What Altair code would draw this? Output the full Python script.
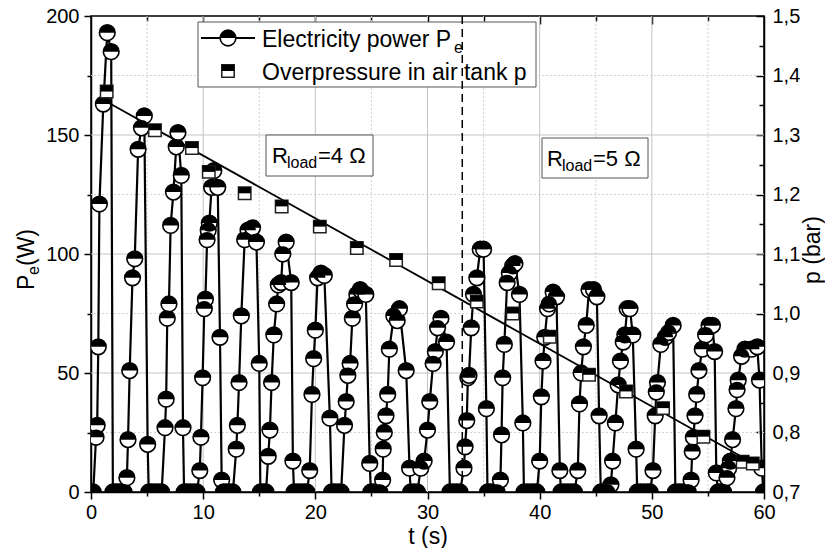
import altair as alt
import pandas as pd

FONT = "Liberation Sans"

# ---------------- data ----------------
# Electricity power P_e (W): one block per pulse (rise, peak, drop, zeros)
s00_t = [0.0, 0.2]
s00_w = [0, 0]
s01_t = [0.45, 0.55, 0.65, 0.75, 1.1, 1.45, 1.8, 1.95, 2.2, 2.45, 2.7, 2.95]
s01_w = [23, 28, 61, 121, 163, 193, 185, 0, 0, 0, 0, 0]
s02_t = [3.2, 3.3, 3.45, 3.7, 3.9, 4.2, 4.5, 4.75, 5.05, 5.15, 5.4, 5.7, 6.0, 6.3]
s02_w = [6, 22, 51, 90, 98, 144, 153, 158, 20, 0, 0, 0, 0, 0]
s03_t = [6.6, 6.7, 6.8, 6.95, 7.1, 7.35, 7.6, 7.75, 8.05, 8.2, 8.3, 8.55, 8.85, 9.15, 9.45]
s03_w = [27, 39, 73, 79, 112, 126, 145, 151, 133, 27, 0, 0, 0, 0, 0]
s04_t = [9.7, 9.8, 9.95, 10.1, 10.2, 10.35, 10.45, 10.55, 10.75, 10.95, 11.3, 11.5, 11.65, 11.8, 12.05, 12.35, 12.65]
s04_w = [9, 23, 48, 77, 81, 106, 110, 113, 128, 135, 128, 65, 5, 0, 0, 0, 0]
s05_t = [12.95, 13.05, 13.2, 13.4, 13.7, 14.0, 14.4, 14.75, 15.0, 15.1, 15.35, 15.6]
s05_w = [18, 28, 46, 74, 106, 110, 111, 105, 54, 0, 0, 0]
s06_t = [15.8, 15.95, 16.1, 16.3, 16.55, 16.7, 16.95, 17.1, 17.4, 17.85, 18.0, 18.1, 18.4, 18.7, 19.0, 19.25]
s06_w = [15, 26, 46, 66, 79, 87, 88, 100, 105, 88, 13, 0, 0, 0, 0, 0]
s07_t = [19.5, 19.7, 19.85, 20.0, 20.2, 20.5, 20.8, 21.3, 21.45, 21.7, 22.0, 22.3]
s07_w = [9, 41, 56, 68, 90, 92, 91, 31, 0, 0, 0, 0]
s08_t = [22.6, 22.75, 22.9, 23.1, 23.3, 23.5, 23.7, 24.0, 24.5, 24.85, 24.95, 25.2, 25.5, 25.75]
s08_w = [28, 38, 49, 54, 73, 79, 83, 85, 83, 12, 0, 0, 0, 0]
s09_t = [26.0, 26.05, 26.15, 26.3, 26.45, 26.6, 27.0, 27.3, 27.5, 28.1, 28.4, 28.5, 28.8, 29.1]
s09_w = [5, 18, 25, 32, 41, 60, 74, 72, 77, 51, 10, 0, 0, 0]
s10_t = [29.4, 29.7, 30.0, 30.2, 30.5, 30.7, 30.9, 31.2, 31.7, 32.0, 32.3, 32.6, 32.9]
s10_w = [10, 13, 26, 38, 54, 59, 69, 73, 63, 0, 0, 0, 0]
s11_t = [33.25, 33.35, 33.5, 33.6, 33.7, 33.9, 34.1, 34.4, 34.7, 35.0, 35.25, 35.35, 35.6, 35.9, 36.2]
s11_w = [10, 19, 30, 48, 49, 69, 83, 90, 102, 102, 35, 0, 0, 0, 0]
s12_t = [36.5, 36.6, 36.7, 36.85, 37.1, 37.3, 37.6, 37.8, 38.2, 38.5, 38.6, 38.9, 39.2, 39.5, 39.75]
s12_w = [5, 24, 48, 62, 88, 92, 95, 96, 83, 29, 0, 0, 0, 0, 0]
s13_t = [40.0, 40.15, 40.3, 40.45, 40.7, 40.85, 41.2, 41.5, 41.8, 41.9, 42.2, 42.5, 42.8, 43.1]
s13_w = [13, 40, 55, 65, 77, 79, 84, 82, 9, 0, 0, 0, 0, 0]
s14_t = [43.4, 43.55, 43.7, 43.9, 44.15, 44.4, 44.8, 45.1, 45.3, 45.45, 45.75, 46.05]
s14_w = [9, 37, 50, 61, 70, 85, 85, 82, 32, 0, 0, 0]
s15_t = [46.35, 46.5, 46.75, 47.0, 47.2, 47.45, 47.6, 47.8, 48.05, 48.3, 48.6, 48.7, 49.0, 49.3, 49.6, 49.85]
s15_w = [3, 13, 29, 45, 55, 63, 66, 77, 77, 66, 18, 0, 0, 0, 0, 0]
s16_t = [50.1, 50.3, 50.4, 50.5, 50.8, 51.2, 51.5, 51.9, 52.1, 52.4, 52.7, 53.0, 53.25]
s16_w = [9, 32, 42, 46, 62, 65, 67, 70, 0, 0, 0, 0, 0]
s17_t = [53.5, 53.6, 53.7, 53.85, 54.0, 54.2, 54.5, 54.8, 55.1, 55.4, 55.6, 55.75, 55.9, 56.15, 56.4]
s17_w = [5, 17, 23, 32, 41, 51, 60, 66, 70, 70, 59, 8, 0, 0, 0]
s18_t = [56.7, 56.85, 57.0, 57.2, 57.5, 57.6, 57.7, 58.0, 58.3, 58.9, 59.4, 59.6, 59.8, 59.95]
s18_w = [6, 10, 13, 22, 35, 43, 47, 57, 60, 60, 61, 47, 10, 0]

t_pe = (s00_t + s01_t + s02_t + s03_t + s04_t + s05_t + s06_t + s07_t + s08_t + s09_t
        + s10_t + s11_t + s12_t + s13_t + s14_t + s15_t + s16_t + s17_t + s18_t)
w_pe = (s00_w + s01_w + s02_w + s03_w + s04_w + s05_w + s06_w + s07_w + s08_w + s09_w
        + s10_w + s11_w + s12_w + s13_w + s14_w + s15_w + s16_w + s17_w + s18_w)

# Overpressure in air tank p (bar)
t_p = [1.4, 5.7, 9.0, 10.5, 13.7, 17.0, 20.4, 23.7, 27.2, 31.0, 34.4, 37.6, 40.9,
       44.4, 47.7, 51.0, 54.6, 58.1, 59.0]
p_bar = [1.373, 1.308, 1.278, 1.238, 1.202, 1.180, 1.146, 1.110, 1.090, 1.051, 1.020,
         1.000, 0.961, 0.897, 0.869, 0.841, 0.793, 0.751, 0.748]

# linear fit of p
fit_t = [1.4, 58.9]
fit_p = [1.356, 0.750]

# load change
t_switch = [33.1]

# axes ticks / grid
t_major = [0, 10, 20, 30, 40, 50, 60]
t_minor = [5, 15, 25, 35, 45, 55]
t_grid_major = [10, 20, 30, 40, 50]
t_top_major = [10, 20, 30, 40, 50]
w_major = [0, 50, 100, 150, 200]
w_minor = [25, 75, 125, 175]
w_grid_major = [50, 100, 150]
p_major = [0.7, 0.8, 0.9, 1.0, 1.1, 1.2, 1.3, 1.4, 1.5]
p_minor = [0.75, 0.85, 0.95, 1.05, 1.15, 1.25, 1.35, 1.45]

df_pe = pd.DataFrame({"t": t_pe, "P": w_pe})
df_p = pd.DataFrame({"t": t_p, "p": p_bar})
df_fit = pd.DataFrame({"t": fit_t, "p": fit_p})
df_sw = pd.DataFrame({"t": t_switch})
df_tmin = pd.DataFrame({"t": t_minor})
df_tgrid = pd.DataFrame({"t": t_grid_major})
df_wmin = pd.DataFrame({"w": w_minor})
df_wgrid = pd.DataFrame({"w": w_grid_major})
one = pd.DataFrame({"k": [0]})

W, H = 673, 476
XS = alt.Scale(domain=[0, 60], nice=False, zero=False)
YS = alt.Scale(domain=[0, 200], nice=False, zero=False)
PS = alt.Scale(domain=[0.7, 1.5], nice=False, zero=False)

HALF_CIRCLE = "M -1 0 A 1 1 0 0 1 1 0 Z"
HALF_SQUARE = "M -1 -1 L 1 -1 L 1 0 L -1 0 Z"
CSIZE = 245
SSIZE = 155

base_ax = dict(labelFont=FONT, labelColor="black", tickColor="black", domainColor="black",
               titleFont=FONT, titleColor="black", titleFontWeight="normal", grid=False)


def ticks_only(orient, values, size, offset=0):
    return alt.Axis(orient=orient, values=values, tickSize=size, tickWidth=1.5,
                    labels=False, domain=False, title=None, offset=offset, **base_ax)


# grids + axes
vgrid_minor = alt.Chart(df_tmin).mark_rule(color="#d4d4d4", strokeWidth=1, strokeDash=[2, 2]).encode(
    x=alt.X("t:Q", scale=XS, axis=ticks_only("bottom", t_minor, 4)))
hgrid_minor = alt.Chart(df_wmin).mark_rule(color="#d4d4d4", strokeWidth=1, strokeDash=[2, 2]).encode(
    y=alt.Y("w:Q", scale=YS, axis=ticks_only("left", w_minor, 4)))
vgrid_major = alt.Chart(df_tgrid).mark_rule(color="#c4c4c4", strokeWidth=1).encode(
    x=alt.X("t:Q", scale=XS, axis=alt.Axis(
        orient="bottom", values=t_major, tickSize=7, tickWidth=1.5, domainWidth=1.5,
        labelFontSize=20, labelPadding=3, labelFlush=False, title="t (s)",
        titleFontSize=23, titlePadding=3, **base_ax)))
hgrid_major = alt.Chart(df_wgrid).mark_rule(color="#c4c4c4", strokeWidth=1).encode(
    y=alt.Y("w:Q", scale=YS, axis=alt.Axis(
        orient="left", values=w_major, tickSize=7, tickWidth=1.5, domainWidth=1.5,
        labelFontSize=20, labelPadding=5, labelFlush=False, title=None, **base_ax)))

# power series
pe_line = alt.Chart(df_pe).mark_line(color="black", strokeWidth=2.2, clip=True).encode(
    x=alt.X("t:Q", scale=XS, axis=None), y=alt.Y("P:Q", scale=YS, axis=None))
pe_white = alt.Chart(df_pe).mark_point(shape="circle", filled=True, fill="white", stroke="black",
                                      strokeWidth=1.6, size=CSIZE, opacity=1, clip=True).encode(
    x=alt.X("t:Q", scale=XS, axis=None), y=alt.Y("P:Q", scale=YS, axis=None))
pe_black = alt.Chart(df_pe).mark_point(shape=HALF_CIRCLE, filled=True, color="black",
                                      size=CSIZE, opacity=1, clip=True).encode(
    x=alt.X("t:Q", scale=XS, axis=None), y=alt.Y("P:Q", scale=YS, axis=None))

# pressure
fit_line = alt.Chart(df_fit).mark_line(color="black", strokeWidth=1.8).encode(
    x=alt.X("t:Q", scale=XS, axis=ticks_only("bottom", t_top_major, 8, offset=-H)),
    y=alt.Y("p:Q", scale=PS, axis=alt.Axis(
        orient="right", values=p_major, tickSize=0, domainWidth=1.5, labelFontSize=20,
        labelPadding=8, labelFlush=False,
        labelExpr="replace(format(datum.value, '.1f'), '.', ',')",
        title=None, **base_ax)))
p_white = alt.Chart(df_p).mark_point(shape="square", filled=True, fill="white", stroke="#222222",
                                     strokeWidth=1.5, size=SSIZE, opacity=1).encode(
    x=alt.X("t:Q", scale=XS, axis=None),
    y=alt.Y("p:Q", scale=PS, axis=ticks_only("left", p_major, 8, offset=-W)))
p_black = alt.Chart(df_p).mark_point(shape=HALF_SQUARE, filled=True, color="black",
                                     size=SSIZE, opacity=1).encode(
    x=alt.X("t:Q", scale=XS, axis=None),
    y=alt.Y("p:Q", scale=PS, axis=ticks_only("left", p_minor, 5, offset=-W)))

# legend
leg_box = alt.Chart(one).mark_rect(fill="white", stroke="#555555", strokeWidth=1).encode(
    x=alt.value(107), x2=alt.value(445), y=alt.value(6), y2=alt.value(71))
leg_line = alt.Chart(one).mark_rule(color="black", strokeWidth=2).encode(
    x=alt.value(110), x2=alt.value(164), y=alt.value(22))
leg_c1 = alt.Chart(one).mark_point(shape="circle", filled=True, fill="white", stroke="black",
                                   strokeWidth=1.6, size=CSIZE, opacity=1).encode(
    x=alt.value(137), y=alt.value(22))
leg_c2 = alt.Chart(one).mark_point(shape=HALF_CIRCLE, filled=True, color="black",
                                   size=CSIZE, opacity=1).encode(x=alt.value(137), y=alt.value(22))
leg_s1 = alt.Chart(one).mark_point(shape="square", filled=True, fill="white", stroke="#222222",
                                   strokeWidth=1.5, size=SSIZE, opacity=1).encode(
    x=alt.value(137), y=alt.value(55))
leg_s2 = alt.Chart(one).mark_point(shape=HALF_SQUARE, filled=True, color="black",
                                   size=SSIZE, opacity=1).encode(x=alt.value(137), y=alt.value(55))


def txt(s, x, y, size, align="left", angle=0, font=FONT):
    return alt.Chart(one).mark_text(text=s, align=align, baseline="alphabetic", fontSize=size,
                                    font=font, color="black", angle=angle).encode(
        x=alt.value(x), y=alt.value(y))


leg_t1 = txt("Electricity power P", 171, 31, 23)
leg_t1s = txt("e", 363, 37, 16)
leg_t2 = txt("Overpressure in air tank p", 171, 64, 23)

# R_load annotations
r4_box = alt.Chart(one).mark_rect(fill="white", stroke="#555555", strokeWidth=1).encode(
    x=alt.value(175), x2=alt.value(282), y=alt.value(119), y2=alt.value(160))
r4_a = txt("R", 181, 147, 22)
r4_b = txt("load", 196, 152, 16)
r4_c = txt("=4 \u03a9", 227, 147, 22)
r5_box = alt.Chart(one).mark_rect(fill="white", stroke="#555555", strokeWidth=1).encode(
    x=alt.value(451), x2=alt.value(557), y=alt.value(122), y2=alt.value(162))
r5_a = txt("R", 456, 150, 22)
r5_b = txt("load", 471, 155, 16)
r5_c = txt("=5 \u03a9", 502, 150, 22)

# load switch (dashed) + top minor ticks
switch = alt.Chart(df_sw).mark_rule(color="black", strokeWidth=1.5, strokeDash=[8, 5]).encode(
    x=alt.X("t:Q", scale=XS, axis=ticks_only("bottom", t_minor, 5, offset=-H)))

# axis titles drawn as text (subscript / reading direction)
yt1 = txt("P", -57, 274, 23, angle=270)
yt2 = txt("e", -52, 259, 16, angle=270)
yt3 = txt("(W)", -57, 250, 23, angle=270)
pt = txt("p (bar)", 729, 234, 23, align="center", angle=270)

chart = alt.layer(
    vgrid_minor, hgrid_minor, vgrid_major, hgrid_major,
    pe_line, pe_white, pe_black,
    fit_line, p_white, p_black,
    leg_box, leg_line, leg_c1, leg_c2, leg_s1, leg_s2, leg_t1, leg_t1s, leg_t2,
    r4_box, r4_a, r4_b, r4_c, r5_box, r5_a, r5_b, r5_c,
    switch, yt1, yt2, yt3, pt,
).resolve_scale(x="independent", y="independent").properties(
    width=W, height=H,
    autosize=alt.AutoSizeParams(type="none"),
    padding={"left": 83, "top": 8, "right": 61, "bottom": 56},
).configure_view(stroke="black", strokeWidth=1.5)

chart.save("out.html", embed_options={"renderer": "svg", "actions": False})
